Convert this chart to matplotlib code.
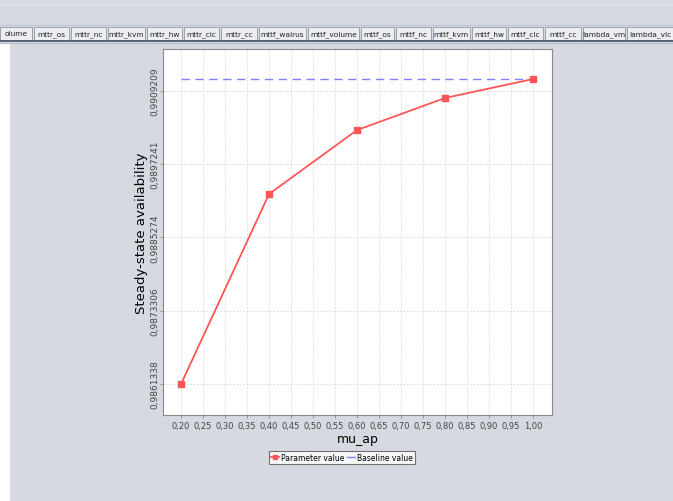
import matplotlib
matplotlib.use("Agg")
import matplotlib.pyplot as plt
from matplotlib.patches import Rectangle
from matplotlib.lines import Line2D

# data
mu_ap = [0.20, 0.40, 0.60, 0.80, 1.00]
availability = [0.9861338, 0.9892360, 0.9902810, 0.9908040, 0.9911140]
baseline = 0.9911140
y_ticks = [0.9861338, 0.9873306, 0.9885274, 0.9897241, 0.9909209]
x_ticks = [0.20, 0.25, 0.30, 0.35, 0.40, 0.45, 0.50, 0.55, 0.60, 0.65,
           0.70, 0.75, 0.80, 0.85, 0.90, 0.95, 1.00]
tab_names = ["olume", "mttr_os", "mttr_nc", "mttr_kvm", "mttr_hw", "mttr_clc",
             "mttr_cc", "mttf_walrus", "mttf_volume", "mttf_os", "mttf_nc",
             "mttf_kvm", "mttf_hw", "mttf_clc", "mttf_cc", "lambda_vm", "lambda_vlc"]
tab_edges = [0, 34, 71, 108, 147, 184, 221, 259, 308, 361, 396, 433, 472,
             508, 545, 583, 627, 676]

W, H = 673, 502
BG = "#d6d9e0"

fig = plt.figure(figsize=(W / 100, H / 100), dpi=100)
fig.patch.set_facecolor(BG)

def px(x, y, w, h):
    # pixel box (top-left origin) -> figure fraction
    return [x / W, 1 - (y + h) / H, w / W, h / H]

# window chrome: tab strip and white strip at left
chrome = fig.add_axes([0, 0, 1, 1], zorder=-1)
chrome.set_xlim(0, W)
chrome.set_ylim(H, 0)
chrome.axis("off")
chrome.plot([0, W], [5, 5], color="#e4e6ea", lw=1)
chrome.plot([0, W], [26, 26], color="#c2c6ce", lw=0.8)
for i, name in enumerate(tab_names):
    x0, x1 = tab_edges[i], tab_edges[i + 1] - 2
    chrome.add_patch(Rectangle((x0, 28), x1 - x0, 13, facecolor="#eceef1",
                               edgecolor="#9aa1ad", lw=0.7))
    chrome.text((x0 + x1) / 2, 34.5, name, ha="center", va="center",
                fontsize=5.3, color="#222222")
chrome.plot([0, W], [41.5, 41.5], color="#4a5570", lw=1.2)
chrome.plot([0, W], [43.5, 43.5], color="#b8bec8", lw=0.8)
chrome.add_patch(Rectangle((0, 45), 10, H - 45, facecolor="white", edgecolor="none"))

# chart
ax = fig.add_axes(px(163, 50, 389, 366))
ax.set_facecolor("white")
ax.plot(mu_ap, availability, color="#ff5555", lw=1.3, marker="s",
        markersize=4, zorder=3)
ax.plot([mu_ap[0], mu_ap[-1]], [baseline, baseline], color="#8080ff",
        lw=1.0, dashes=(6, 4), zorder=2)

ax.set_xlim(0.159, 1.043)
ax.set_ylim(0.985628, 0.991604)
ax.set_xticks(x_ticks)
ax.set_xticklabels([f"{v:.2f}".replace(".", ",") for v in x_ticks], fontsize=6)
ax.set_yticks(y_ticks)
ax.set_yticklabels([f"{v:.7f}".replace(".", ",") for v in y_ticks],
                   fontsize=6.5, rotation=90, va="center")
ax.tick_params(length=2, width=0.6, color="#888888", pad=2, labelcolor="#444444")
ax.tick_params(axis="y", pad=0.5)
ax.grid(True, color="#d8d8d8", lw=0.6, linestyle=(0, (2, 2)))
for s in ax.spines.values():
    s.set_color("#8a8a8a")
    s.set_linewidth(0.8)

ax.set_xlabel("mu_ap", fontsize=9, labelpad=2)
ax.set_ylabel("Steady-state availability", fontsize=9.5, fontweight="medium")
ax.yaxis.set_label_coords(-0.038, 0.5)

handles = [
    Line2D([], [], color="#ff5555", marker="s", markersize=3.5, lw=1.3),
    Line2D([], [], color="#8080ff", lw=1.0),
]
leg = fig.legend(handles, ["Parameter value", "Baseline value"],
                 loc="center", bbox_to_anchor=(342 / W, 1 - 458.5 / H),
                 ncol=2, fontsize=5.5, frameon=True, fancybox=False,
                 handlelength=1.0, handletextpad=0.3, columnspacing=0.4,
                 borderpad=0.3, borderaxespad=0)
leg.get_frame().set_edgecolor("#555555")
leg.get_frame().set_linewidth(0.8)

fig.savefig("out.png", dpi=100, facecolor=fig.get_facecolor())
